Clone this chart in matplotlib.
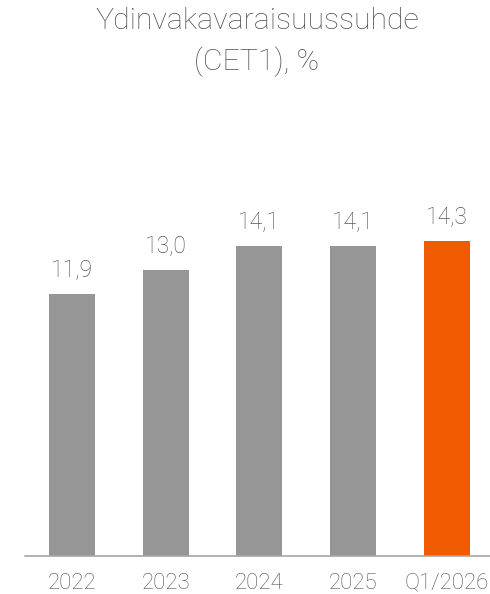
import matplotlib.pyplot as plt

categories = ["2022", "2023", "2024", "2025", "Q1/2026"]
values = [11.9, 13.0, 14.1, 14.1, 14.3]
labels = ["11,9", "13,0", "14,1", "14,1", "14,3"]
colors = ["#969696", "#969696", "#969696", "#969696", "#F05A00"]

plt.rcParams['font.family'] = ['Roboto', 'DejaVu Sans']
textcolor = "#555555"
fw = "light"

fig = plt.figure(figsize=(4.9, 5.94), dpi=100)
# axes: baseline at y=556px, left edge at x=25px
ax = fig.add_axes([25/490, 38/594, 465/490, 406/594])

x = range(len(categories))
ax.bar(x, values, width=0.49, color=colors, zorder=2)
ax.set_xlim(-0.5, 4.46)
ax.set_ylim(0, 406/22)

for i, (v, l) in enumerate(zip(values, labels)):
    ax.text(i, v + 0.55, l, ha="center", va="bottom", fontsize=16.5, color=textcolor, fontweight=fw)

ax.set_xticks(list(x))
ax.set_xticklabels(categories, fontsize=16, color=textcolor, fontweight=fw)
ax.tick_params(axis="x", length=0, pad=12)
ax.set_yticks([])
for s in ["top", "right", "left"]:
    ax.spines[s].set_visible(False)
ax.spines["bottom"].set_color("#A6A6A6")
ax.spines["bottom"].set_linewidth(1.2)

fig.text(257/490, 1 - 21/594, "Ydinvakavaraisuussuhde", ha="center", va="center",
         fontsize=21.8, color=textcolor, fontweight=fw)
fig.text(257/490, 1 - 62/594, "(CET1), %", ha="center", va="center",
         fontsize=21.8, color=textcolor, fontweight=fw)

fig.savefig("out.png", dpi=100)
